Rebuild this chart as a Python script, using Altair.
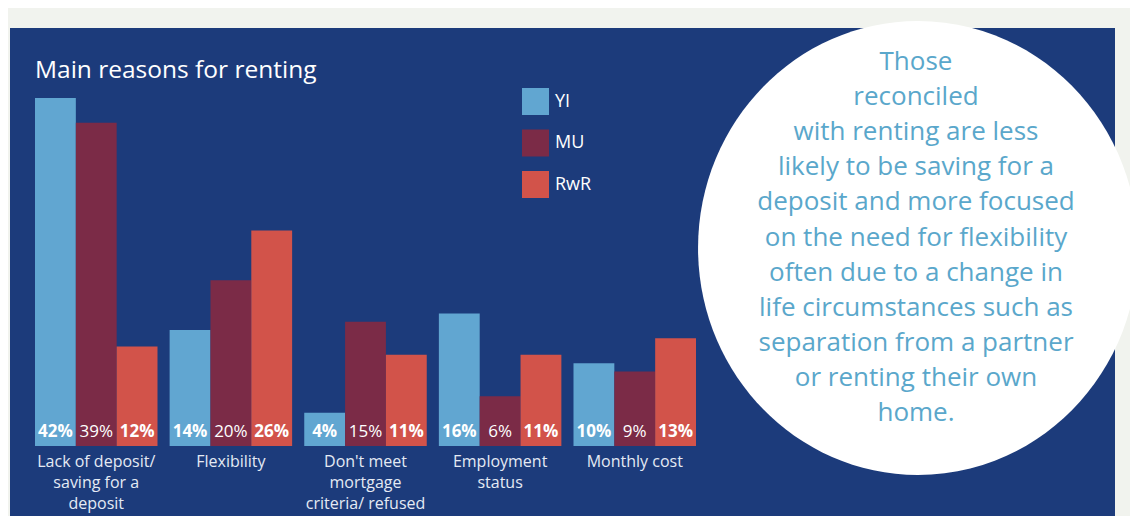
import altair as alt
import pandas as pd

# ---- data ----
categories = ["Lack of deposit", "Flexibility", "Don't meet mortgage", "Employment status", "Monthly cost"]
category_labels = [
    "Lack of deposit/\nsaving for a\ndeposit",
    "Flexibility",
    "Don't meet\nmortgage\ncriteria/ refused",
    "Employment\nstatus",
    "Monthly cost",
]
series = ["YI", "MU", "RwR"]
yi = [42, 14, 4, 16, 10]
mu = [39, 20, 15, 6, 9]
rwr = [12, 26, 11, 11, 13]
colors = ["#61a6d1", "#7b2b47", "#d2534a"]
title_text = "Main reasons for renting"
circle_lines = [
    "Those",
    "reconciled",
    "with renting are less",
    "likely to be saving for a",
    "deposit and more focused",
    "on the need for flexibility",
    "often due to a change in",
    "life circumstances such as",
    "separation from a partner",
    "or renting their own",
    "home.",
]

rows = []
for s, vals in zip(series, [yi, mu, rwr]):
    for c, v in zip(categories, vals):
        rows.append({"category": c, "series": s, "value": v, "label": f"{v}%"})
df = pd.DataFrame(rows)
cat_df = pd.DataFrame({"category": categories, "label": category_labels})
one = pd.DataFrame({"k": [0]})

FONT = "Open Sans"
PANEL = "#1c3b7b"

xenc = alt.X("category:N", sort=categories,
             scale=alt.Scale(range=[27, 688], paddingInner=0.09, paddingOuter=0),
             axis=None)
xoff = alt.XOffset("series:N", sort=series)
yscale = alt.Scale(domain=[0, 42], range=[438, 90], nice=False, zero=True)

panel = alt.Chart(one).mark_rect(color=PANEL).encode(
    x=alt.value(2), x2=alt.value(1107), y=alt.value(20), y2=alt.value(508)
)

ellipse = alt.Chart(one).mark_point(
    shape="M -0.969 0 A 0.969 1 0 1 0 0.969 0 A 0.969 1 0 1 0 -0.969 0 Z",
    filled=True, fill="white", opacity=1, strokeWidth=0, size=206116,
).encode(x=alt.value(910), y=alt.value(240))

circle_text = alt.Chart(one).mark_text(
    text=circle_lines, font=FONT, fontSize=26, color="#5aa7cb",
    align="center", baseline="alphabetic", lineHeight=35.1,
).encode(x=alt.value(908), y=alt.value(62))

title = alt.Chart(one).mark_text(
    text=title_text, font=FONT, fontSize=24.5, color="white",
    align="left", baseline="alphabetic",
).encode(x=alt.value(27), y=alt.value(70))

bars = alt.Chart(df).mark_bar().encode(
    x=xenc, xOffset=xoff,
    y=alt.Y("value:Q", scale=yscale, axis=None),
    color=alt.Color(
        "series:N", sort=series,
        scale=alt.Scale(domain=series, range=colors),
        legend=alt.Legend(
            title=None, orient="none", legendX=514, legendY=80,
            symbolType="square", symbolSize=729, symbolStrokeWidth=0,
            symbolOpacity=1, labelFont=FONT, labelFontSize=18,
            labelColor="white", labelOffset=6, rowPadding=14.5,
        ),
    ),
)

labels_bold = alt.Chart(df).transform_filter("datum.series != 'MU'").mark_text(
    font=FONT, fontSize=17, fontWeight="bold", color="white",
    baseline="alphabetic", align="center",
).encode(x=xenc, xOffset=xoff, y=alt.value(429), text="label:N")

labels_norm = alt.Chart(df).transform_filter("datum.series == 'MU'").mark_text(
    font=FONT, fontSize=17, color="white",
    baseline="alphabetic", align="center",
).encode(x=xenc, xOffset=xoff, y=alt.value(429), text="label:N")

cat_text = alt.Chart(cat_df).mark_text(
    font=FONT, fontSize=16, color="#e4eaf4", baseline="alphabetic", align="center",
    lineBreak="\n", lineHeight=21,
).encode(x=xenc, y=alt.value(459), text="label:N")

chart = alt.layer(
    panel, ellipse, circle_text, title, bars, labels_bold, labels_norm, cat_text
).properties(
    width=1122, height=508, autosize=alt.AutoSizeParams(type="none"), padding=0,
    background="#f1f3ee",
).configure_view(stroke=None)

chart.save("out.html", embed_options={"renderer": "svg", "actions": False})
